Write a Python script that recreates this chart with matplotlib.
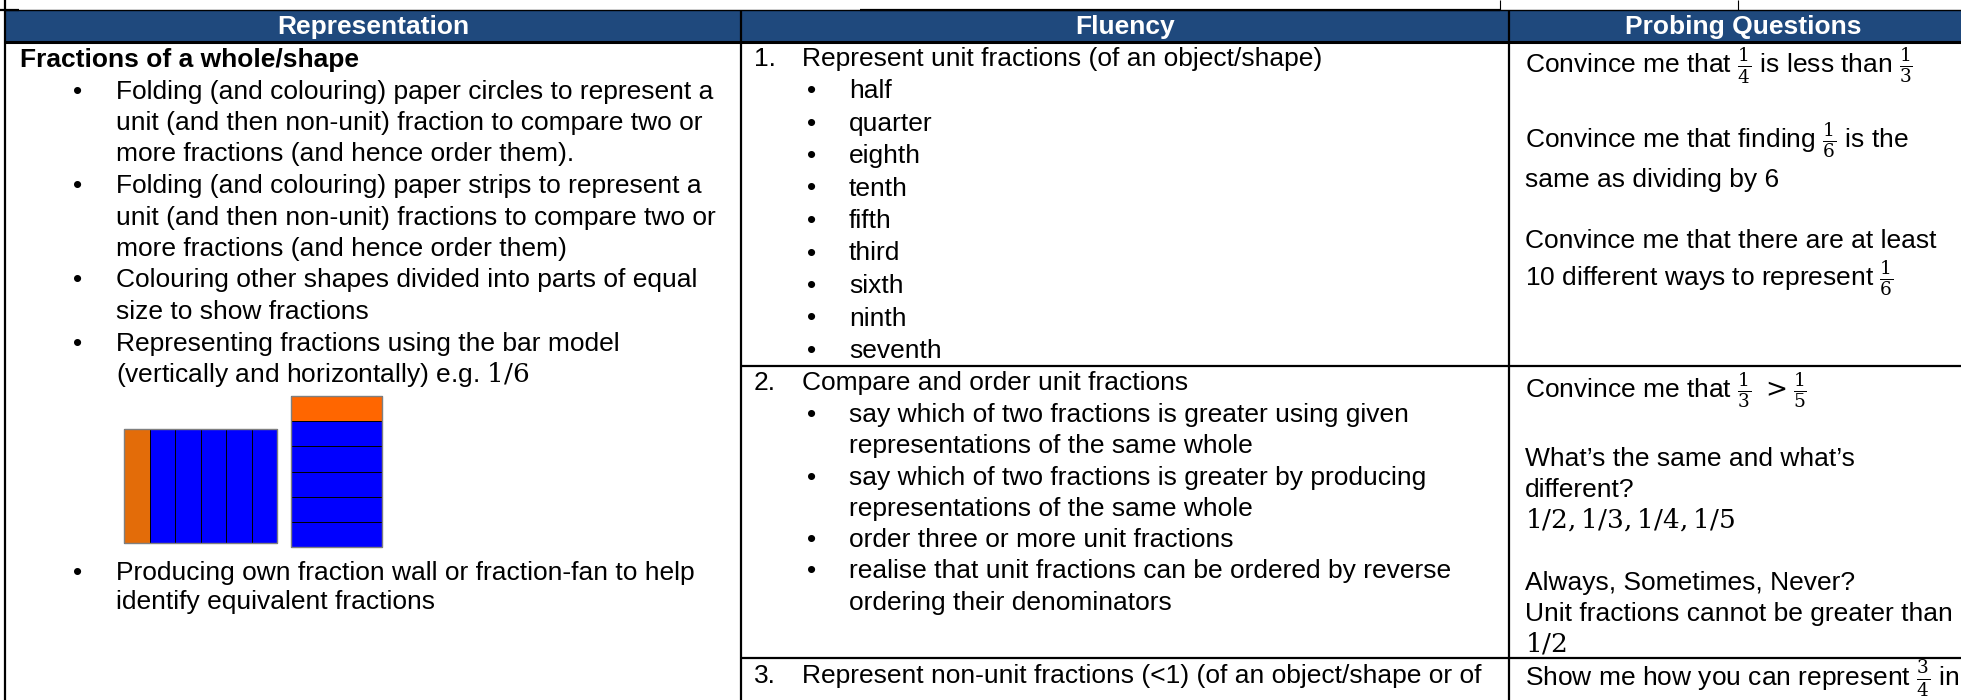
import matplotlib.pyplot as plt
from matplotlib.patches import Rectangle

plt.rcParams['font.family'] = ['Liberation Sans', 'DejaVu Sans']
plt.rcParams['mathtext.fontset'] = 'dejavuserif'

# ---- content ----
headers = ["Representation", "Fluency", "Probing Questions"]

rep_title = "Fractions of a whole/shape"
rep_items = [
    ["Folding (and colouring) paper circles to represent a",
     "unit (and then non-unit) fraction to compare two or",
     "more fractions (and hence order them)."],
    ["Folding (and colouring) paper strips to represent a",
     "unit (and then non-unit) fractions to compare two or",
     "more fractions (and hence order them)"],
    ["Colouring other shapes divided into parts of equal",
     "size to show fractions"],
    ["Representing fractions using the bar model",
     "(vertically and horizontally) e.g. $1/6$"],
]
rep_last = ["Producing own fraction wall or fraction-fan to help",
            "identify equivalent fractions"]

# bar model: 1/6 shaded
bar_parts = 6
bar_shaded = 1

flu1_title = "Represent unit fractions (of an object/shape)"
flu1_items = ["half", "quarter", "eighth", "tenth", "fifth",
              "third", "sixth", "ninth", "seventh"]
flu2_title = "Compare and order unit fractions"
flu2_items = [
    ["say which of two fractions is greater using given",
     "representations of the same whole"],
    ["say which of two fractions is greater by producing",
     "representations of the same whole"],
    ["order three or more unit fractions"],
    ["realise that unit fractions can be ordered by reverse",
     "ordering their denominators"],
]
flu3_title = "Represent non-unit fractions (<1) (of an object/shape or of"

probe_row1 = ["Convince me that $\\frac{1}{4}$ is less than $\\frac{1}{3}$",
              "Convince me that finding $\\frac{1}{6}$ is the",
              "same as dividing by 6",
              "Convince me that there are at least",
              "10 different ways to represent $\\frac{1}{6}$"]
probe_row2 = ["Convince me that $\\frac{1}{3}\\ > \\frac{1}{5}$",
              "What\u2019s the same and what\u2019s",
              "different?",
              "$1/2, 1/3, 1/4, 1/5$",
              "Always, Sometimes, Never?",
              "Unit fractions cannot be greater than",
              "$1/2$"]
probe_row3 = ["Show me how you can represent $\\frac{3}{4}$ in"]

# ---- layout ----
W, H = 1961, 700
fs = 19
navy = '#1F497D'
col_x = [4.5, 741, 1509]

fig = plt.figure(figsize=(W / 100, H / 100), dpi=100)
ax = fig.add_axes([0, 0, 1, 1])
ax.set_xlim(0, W)
ax.set_ylim(H, 0)
ax.axis('off')

# header band
ax.add_patch(Rectangle((col_x[0], 10), W - col_x[0] + 20, 32,
                       facecolor=navy, edgecolor='none', zorder=1))
head_cx = [373, 1125, 1743]
for txt, cx in zip(headers, head_cx):
    ax.text(cx, 34, txt, color='white', fontsize=fs, fontweight='bold',
            ha='center', va='baseline', zorder=3)

# grid lines
lk = dict(color='black', zorder=4, solid_capstyle='butt')
ax.plot([col_x[0], W], [10, 10], lw=1.0, **lk)
ax.plot([860, 1500], [9.5, 9.5], lw=1.6, **lk)
ax.plot([0, 19], [10, 10], lw=1.6, **lk)
ax.plot([col_x[0], W], [42, 42], lw=2.2, **lk)
ax.plot([col_x[0], col_x[0]], [0, H], lw=1.6, **lk)
for x in col_x[1:]:
    ax.plot([x, x], [10, H], lw=1.6, **lk)
for x in [1500, 1738]:
    ax.plot([x, x], [0, 10], lw=0.8, **lk)
for y in [366, 658]:
    ax.plot([col_x[1], W], [y, y], lw=1.6, **lk)

def put(x, y, s, **kw):
    ax.text(x, y, s, fontsize=fs, ha='left', va='baseline', color='black', zorder=3, **kw)

# Representation column
put(20, 67, rep_title, fontweight='bold')
step = 31.5
y = 67 + step
for item in rep_items:
    put(73, y, '\u2022')
    for line in item:
        put(116, y, line)
        y += step

# bar model, horizontal bar split into vertical strips
colors = ['#E36C09' if i < bar_shaded else '#0000FF' for i in range(bar_parts)]
bx0, bw, by0, bh = 124, 153, 429, 114
seg_w = bw / bar_parts
lefts = [bx0 + i * seg_w for i in range(bar_parts)]
ax.barh([by0 + bh / 2] * bar_parts, [seg_w] * bar_parts, left=lefts, height=bh,
        color=colors, edgecolor='black', linewidth=0.7, zorder=2)
ax.add_patch(Rectangle((bx0, by0), bw, bh, fill=False, edgecolor='#7F7F7F', lw=1.0, zorder=3))

# vertical bar split into horizontal strips
colors_v = ['#FF6600' if i < bar_shaded else '#0000FF' for i in range(bar_parts)]
vx0, vw, vy0, vh = 291, 91, 396, 151
seg_h = vh / bar_parts
bottoms = [vy0 + i * seg_h for i in range(bar_parts)]
ax.bar([vx0 + vw / 2] * bar_parts, [seg_h] * bar_parts, bottom=bottoms, width=vw,
       color=colors_v, edgecolor='black', linewidth=0.7, zorder=2)
ax.add_patch(Rectangle((vx0, vy0), vw, vh, fill=False, edgecolor='#7F7F7F', lw=1.0, zorder=3))

put(73, 580, '\u2022')
for i, line in enumerate(rep_last):
    put(116, 580 + i * 29.5, line)

# Fluency column
put(754, 66, "1.")
put(802, 66, flu1_title)
for i, item in enumerate(flu1_items):
    yy = 98 + i * 32.5
    put(807, yy, '\u2022')
    put(849, yy, item)

put(754, 390, "2.")
put(802, 390, flu2_title)
y = 422
for item in flu2_items:
    put(807, y, '\u2022')
    for line in item:
        put(849, y, line)
        y += 31.3

put(754, 683, "3.")
put(802, 683, flu3_title)

# Probing questions column
px = 1525
for s, yy in zip(probe_row1, [74, 148, 187, 248, 286]):
    put(px, yy, s)
for s, yy in zip(probe_row2, [398, 466, 497, 528, 590, 621, 651]):
    put(px, yy, s)
for s, yy in zip(probe_row3, [686]):
    put(px, yy, s)

fig.savefig('out.png', dpi=100)
